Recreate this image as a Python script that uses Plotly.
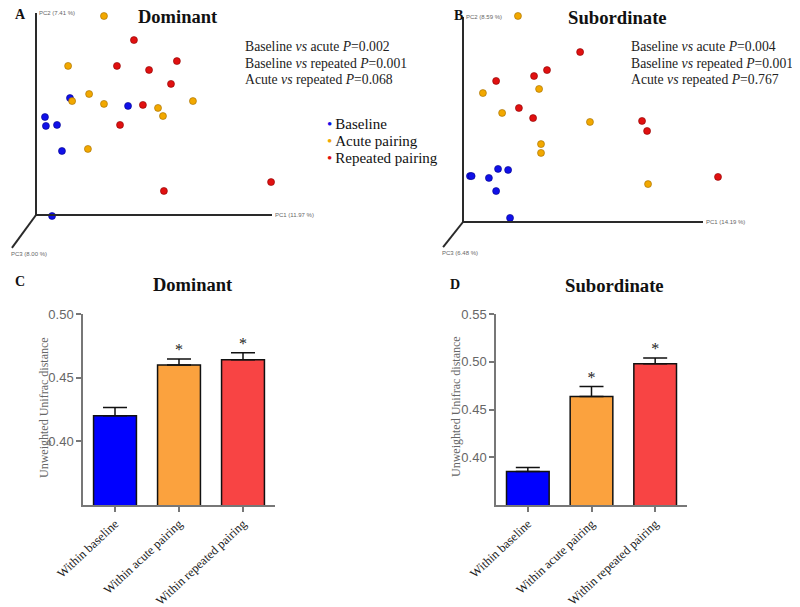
import plotly.graph_objects as go

# ---------------- data ----------------
groups = ["Baseline", "Acute pairing", "Repeated pairing"]
group_colors = ["#1010E8", "#F2A800", "#E01010"]

# Panel A (Dominant) projected PCoA coordinates (PC1 axis units, PC2 axis units)
domA_base_x = [0.144, 0.390, 0.038, 0.042, 0.089, 0.110, 0.068]
domA_base_y = [0.579, 0.540, 0.485, 0.441, 0.446, 0.317, -0.005]
domA_acute_x = [0.288, 0.136, 0.225, 0.153, 0.288, 0.517, 0.538, 0.665, 0.220]
domA_acute_y = [0.985, 0.738, 0.599, 0.564, 0.550, 0.530, 0.490, 0.564, 0.327]
domA_rep_x = [0.415, 0.343, 0.479, 0.597, 0.572, 0.453, 0.356, 0.542, 0.996]
domA_rep_y = [0.866, 0.738, 0.718, 0.762, 0.649, 0.545, 0.446, 0.119, 0.163]

# Panel B (Subordinate)
subB_base_x = [0.029, 0.036, 0.108, 0.146, 0.188, 0.138, 0.196]
subB_base_y = [0.224, 0.224, 0.215, 0.259, 0.254, 0.151, 0.020]
subB_acute_x = [0.229, 0.083, 0.317, 0.163, 0.529, 0.325, 0.325, 0.771]
subB_acute_y = [1.005, 0.629, 0.649, 0.532, 0.488, 0.380, 0.337, 0.185]
subB_rep_x = [0.488, 0.350, 0.296, 0.138, 0.233, 0.292, 0.746, 0.767, 1.0625]
subB_rep_y = [0.829, 0.741, 0.712, 0.688, 0.556, 0.507, 0.493, 0.444, 0.220]

axis_labels_A = ["PC1 (11.97 %)", "PC2 (7.41 %)", "PC3 (8.00 %)"]
axis_labels_B = ["PC1 (14.19 %)", "PC2 (8.59 %)", "PC3 (6.48 %)"]

stats_A = ["Baseline <i>vs</i> acute <i>P</i>=0.002",
           "Baseline <i>vs</i> repeated <i>P</i>=0.001",
           "Acute <i>vs</i> repeated <i>P</i>=0.068"]
stats_B = ["Baseline <i>vs</i> acute <i>P</i>=0.004",
           "Baseline <i>vs</i> repeated <i>P</i>=0.001",
           "Acute <i>vs</i> repeated <i>P</i>=0.767"]

bar_categories = ["Within baseline", "Within acute pairing", "Within repeated pairing"]
bar_colors = ["#0000FF", "#FBA23E", "#F84444"]
dom_means = [0.420, 0.460, 0.464]
dom_se = [0.0066, 0.0046, 0.0055]
sub_means = [0.385, 0.4635, 0.498]
sub_se = [0.0042, 0.0105, 0.006]
dom_sig = ["", "*", "*"]
sub_sig = ["", "*", "*"]
dom_ticks = [0.40, 0.45, 0.50]
sub_ticks = [0.40, 0.45, 0.50, 0.55]

SERIF = "Liberation Serif"
SANS = "Liberation Sans"
OFF = 8                      # page body margin
W, H = 800 - OFF, 607 - OFF  # figure size so it fits the window


def px(x):
    return (x - OFF) / W


def py(y):
    return 1 - (y - OFF) / H


def scatter_axes(ox, oy, ux, uy, x0, x1, y0, y1):
    """Domains / ranges so that (0,0) sits at the drawn origin and 1 is the axis end."""
    xa = dict(domain=[px(x0), px(x1)], range=[(x0 - ox) / ux, (x1 - ox) / ux])
    ya = dict(domain=[py(y1), py(y0)], range=[(oy - y1) / uy, (oy - y0) / uy])
    return xa, ya


fig = go.Figure()

# ---------------- PCoA scatter panels ----------------
panelA = [(domA_base_x, domA_base_y), (domA_acute_x, domA_acute_y), (domA_rep_x, domA_rep_y)]
panelB = [(subB_base_x, subB_base_y), (subB_acute_x, subB_acute_y), (subB_rep_x, subB_rep_y)]
line_cols = ["#00008A", "#A06C00", "#8A0000"]
for i, (xs, ys) in enumerate(panelA):
    fig.add_trace(go.Scatter(x=xs, y=ys, mode="markers", name=groups[i],
                             marker=dict(color=group_colors[i], size=7,
                                         line=dict(color=line_cols[i], width=0.6)),
                             xaxis="x", yaxis="y", showlegend=False))
for i, (xs, ys) in enumerate(panelB):
    fig.add_trace(go.Scatter(x=xs, y=ys, mode="markers", name=groups[i],
                             marker=dict(color=group_colors[i], size=7,
                                         line=dict(color=line_cols[i], width=0.6)),
                             xaxis="x2", yaxis="y2", showlegend=False))

diagA = (-0.102, -0.163)
diagB = (-0.083, -0.122)
for xr, yr, diag in [("x", "y", diagA), ("x2", "y2", diagB)]:
    for (x1, y1) in [(1, 0), (0, 1), diag]:
        fig.add_shape(type="line", xref=xr, yref=yr, x0=0, y0=0, x1=x1, y1=y1,
                      line=dict(color="#2a2a2a", width=2))

ann = []
for xr, yr, labels, diag in [("x", "y", axis_labels_A, diagA),
                             ("x2", "y2", axis_labels_B, diagB)]:
    ann.append(dict(xref=xr, yref=yr, x=1.005, y=0, text=labels[0],
                    xanchor="left", yanchor="middle", font=dict(family=SANS, size=6, color="#666")))
    ann.append(dict(xref=xr, yref=yr, x=0.005, y=1.0, text=labels[1],
                    xanchor="left", yanchor="middle", font=dict(family=SANS, size=6, color="#666")))
    ann.append(dict(xref=xr, yref=yr, x=diag[0], y=diag[1], text=labels[2],
                    xanchor="left", yanchor="top", yshift=-1, xshift=-3,
                    font=dict(family=SANS, size=6, color="#666")))

ann += [
    dict(x=px(178), y=py(17), text="<b>Dominant</b>", font=dict(family=SERIF, size=18.5, color="#111")),
    dict(x=px(617), y=py(17), text="<b>Subordinate</b>", font=dict(family=SERIF, size=18.7, color="#111")),
    dict(x=px(20), y=py(15), text="<b>A</b>", font=dict(family=SERIF, size=14, color="#111")),
    dict(x=px(458), y=py(16), text="<b>B</b>", font=dict(family=SERIF, size=14, color="#111")),
    dict(x=px(193), y=py(285), text="<b>Dominant</b>", font=dict(family=SERIF, size=18.5, color="#111")),
    dict(x=px(614), y=py(286), text="<b>Subordinate</b>", font=dict(family=SERIF, size=18.7, color="#111")),
    dict(x=px(20), y=py(282), text="<b>C</b>", font=dict(family=SERIF, size=14, color="#111")),
    dict(x=px(455), y=py(285), text="<b>D</b>", font=dict(family=SERIF, size=14, color="#111")),
    dict(x=px(44), y=py(408), text="Unweighted Unifrac distance", textangle=-90,
         font=dict(family=SERIF, size=12, color="#666")),
    dict(x=px(456), y=py(407), text="Unweighted Unifrac distance", textangle=-90,
         font=dict(family=SERIF, size=12, color="#666")),
]
for k, t in enumerate(stats_A):
    ann.append(dict(x=px(243), y=py(47 + 16.5 * k), text=t, xanchor="left",
                    font=dict(family=SERIF, size=13.7, color="#222")))
for k, t in enumerate(stats_B):
    ann.append(dict(x=px(629), y=py(47 + 16.5 * k), text=t, xanchor="left",
                    font=dict(family=SERIF, size=13.7, color="#222")))
# legend for the PCoA groups (bulleted list)
for k, (g, c) in enumerate(zip(groups, group_colors)):
    ann.append(dict(x=px(325), y=py(124 + 16.8 * k), xanchor="left",
                    text=f"<span style='color:{c}'>\u2022</span>\u2009{g}",
                    font=dict(family=SERIF, size=15, color="#111")))
for a in ann:
    a.setdefault("xanchor", "center")
    a.setdefault("yanchor", "middle")
    a.setdefault("xref", "paper")
    a.setdefault("yref", "paper")
    a.setdefault("showarrow", False)

# ---------------- bar panels ----------------
for means, se, sig, xa, ya in [(dom_means, dom_se, dom_sig, "x3", "y3"),
                               (sub_means, sub_se, sub_sig, "x4", "y4")]:
    fig.add_trace(go.Bar(x=bar_categories, y=means, width=0.67,
                         marker=dict(color=bar_colors, line=dict(color="#111", width=1.5)),
                         error_y=dict(type="data", array=se, arrayminus=[0] * len(se),
                                      symmetric=False, color="#111", thickness=1.5, width=12),
                         xaxis=xa, yaxis=ya, showlegend=False))
    fig.add_trace(go.Scatter(x=bar_categories, y=[m + s for m, s in zip(means, se)],
                             mode="text", text=sig, textposition="top center",
                             textfont=dict(family=SERIF, size=16, color="#222"),
                             xaxis=xa, yaxis=ya, showlegend=False, cliponaxis=False))

bar_xaxis = dict(type="category", range=[-0.5, 2.5], showline=True, linecolor="#777",
                 linewidth=1.5, ticks="outside", ticklen=5, tickcolor="#777", tickwidth=1.5,
                 tickangle=-43, tickfont=dict(family=SERIF, size=12.5, color="#222"),
                 showgrid=False, zeroline=False, automargin=False)
bar_yaxis = dict(showline=True, linecolor="#777", linewidth=1.5, ticks="outside",
                 ticklen=5, tickcolor="#777", tickwidth=1.5,
                 tickfont=dict(family=SANS, size=13, color="#666"),
                 showgrid=False, zeroline=False, tickformat=".2f", automargin=False)

hidden = dict(visible=False, showgrid=False, zeroline=False, automargin=False)

xA, yA = scatter_axes(36, 215, 236, 202, 8, 300, 8, 260)
xB, yB = scatter_axes(463, 222, 240, 205, 400, 800, 8, 260)

fig.update_layout(
    template="none",
    width=W, height=H, margin=dict(l=0, r=0, t=0, b=0, autoexpand=False),
    paper_bgcolor="white", plot_bgcolor="rgba(0,0,0,0)",
    showlegend=False,
    xaxis=dict(hidden, **xA),
    yaxis=dict(hidden, **yA),
    xaxis2=dict(hidden, **xB),
    yaxis2=dict(hidden, **yB),
    xaxis3=dict(bar_xaxis, domain=[px(83), px(275)], anchor="y3"),
    yaxis3=dict(bar_yaxis, domain=[py(505), py(314)], range=[0.35, 0.50],
                tickvals=dom_ticks, anchor="x3"),
    xaxis4=dict(bar_xaxis, domain=[px(496), px(687)], anchor="y4"),
    yaxis4=dict(bar_yaxis, domain=[py(505), py(314)], range=[0.35, 0.55],
                tickvals=sub_ticks, anchor="x4"),
    annotations=ann,
    bargap=0.3,
)

fig.write_html("out.html")
